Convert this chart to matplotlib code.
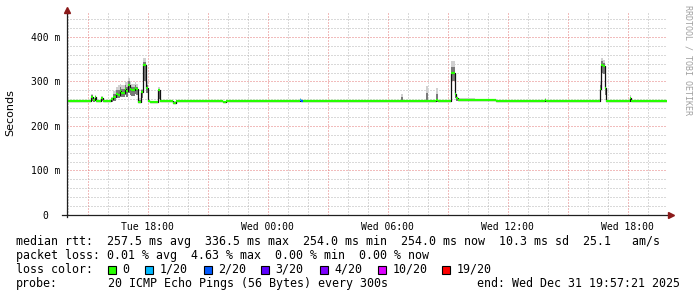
import matplotlib
matplotlib.use("Agg")
import matplotlib.pyplot as plt
import matplotlib.dates as mdates
import matplotlib.ticker as mticker
from matplotlib.patches import Rectangle
import pandas as pd
import numpy as np

# median rtt (ms) as steps
step_times = ["2025-12-30 13:55", "2025-12-30 15:10", "2025-12-30 15:15", "2025-12-30 15:20",
              "2025-12-30 15:25", "2025-12-30 15:40", "2025-12-30 15:45", "2025-12-30 16:10",
              "2025-12-30 16:15", "2025-12-30 16:25", "2025-12-30 16:30", "2025-12-30 16:35",
              "2025-12-30 16:40", "2025-12-30 16:50", "2025-12-30 16:55", "2025-12-30 17:00",
              "2025-12-30 17:05", "2025-12-30 17:10", "2025-12-30 17:20", "2025-12-30 17:25",
              "2025-12-30 17:30", "2025-12-30 17:40", "2025-12-30 17:45", "2025-12-30 17:55",
              "2025-12-30 18:00", "2025-12-30 18:05", "2025-12-30 18:30", "2025-12-30 18:35",
              "2025-12-30 19:15", "2025-12-30 19:25", "2025-12-30 21:45", "2025-12-30 21:55",
              "2025-12-31 01:35", "2025-12-31 01:40", "2025-12-31 01:45", "2025-12-31 06:40",
              "2025-12-31 06:45", "2025-12-31 07:55", "2025-12-31 08:00", "2025-12-31 08:25",
              "2025-12-31 08:30", "2025-12-31 09:10", "2025-12-31 09:20", "2025-12-31 09:25",
              "2025-12-31 09:30", "2025-12-31 10:20", "2025-12-31 11:25", "2025-12-31 13:50",
              "2025-12-31 13:55", "2025-12-31 16:35", "2025-12-31 16:40", "2025-12-31 16:45",
              "2025-12-31 16:50", "2025-12-31 16:55", "2025-12-31 18:05", "2025-12-31 18:10",
              "2025-12-31 19:57"]
median_ms = [255, 266, 258, 264, 255, 262, 255, 260, 266, 272, 270, 278, 274, 283, 278, 292,
             284, 280, 286, 282, 254, 276, 336, 286, 255, 253, 280, 255, 252, 255, 253, 255,
             258, 257, 255, 257, 255, 257, 255, 258, 255, 318, 272, 262, 259, 257.5, 255, 259,
             255, 282, 338, 334, 285, 255, 262, 255, 255]
smoke_hi_ms = [258, 272, 262, 270, 258, 268, 258, 266, 278, 288, 292, 295, 292, 300, 298, 308,
               300, 295, 298, 294, 262, 284, 352, 300, 260, 257, 288, 258, 256, 258, 256, 258,
               262, 261, 258, 272, 258, 290, 258, 285, 258, 345, 292, 266, 262, 260, 258, 262,
               258, 300, 352, 348, 300, 258, 270, 258, 258]
smoke_lo_ms = [253, 255, 253, 255, 253, 255, 253, 254, 256, 262, 262, 266, 264, 270, 266, 275,
               270, 268, 272, 270, 252, 262, 300, 275, 253, 252, 260, 253, 251, 253, 251, 253,
               254, 254, 253, 254, 253, 254, 253, 254, 253, 300, 262, 257, 256, 255, 253, 256,
               253, 270, 320, 316, 270, 253, 255, 253, 253]
loss_count = [0] * len(median_ms)
loss_count[32] = 1
loss_count[33] = 2

stat_lines = ["median rtt:  257.5 ms avg  336.5 ms max  254.0 ms min  254.0 ms now  10.3 ms sd  25.1   am/s",
              "packet loss: 0.01 % avg  4.63 % max  0.00 % min  0.00 % now"]
loss_labels = ["0", "1/20", "2/20", "3/20", "4/20", "10/20", "19/20"]
loss_colors = ["#26ff00", "#00b8ff", "#0059ff", "#5e00ff", "#7e00ff", "#dd00ff", "#ff0000"]
loss_levels = [0, 1, 2, 3, 4, 10, 19]

W, H = 697, 297
t = pd.to_datetime(step_times)
med = np.array(median_ms) / 1000.0
hi = np.array(smoke_hi_ms) / 1000.0
lo = np.array(smoke_lo_ms) / 1000.0
start = pd.Timestamp("2025-12-30 13:57:21")
end = pd.Timestamp("2025-12-31 19:57:21")

fig = plt.figure(figsize=(W / 100, H / 100), dpi=100)
ax = fig.add_axes([67 / W, (H - 215) / H, 600 / W, 203 / H])

# grid
ax.set_xlim(start, end)
ax.set_ylim(0, 0.456)
ax.xaxis.set_major_locator(mdates.HourLocator(byhour=range(0, 24, 3)))
ax.xaxis.set_minor_locator(mdates.HourLocator())
ax.yaxis.set_major_locator(mticker.MultipleLocator(0.1))
ax.yaxis.set_minor_locator(mticker.MultipleLocator(0.02))
ax.grid(which="minor", color="#b4b4b4", linestyle=(0, (1, 2)), linewidth=0.72)
ax.grid(which="major", color="#e47a7a", linestyle=(0, (1, 2)), linewidth=0.72)
ax.set_axisbelow(True)

def xfmt(v, pos):
    d = mdates.num2date(v)
    if d.hour % 6 == 0:
        return d.strftime("%a %H:%M")
    return ""

def yfmt(v, pos):
    if abs(v) < 1e-9:
        return "0"
    return "%d m" % round(v * 1000)

ax.xaxis.set_major_formatter(mticker.FuncFormatter(xfmt))
ax.yaxis.set_major_formatter(mticker.FuncFormatter(yfmt))
ax.tick_params(which="both", length=0)
ax.tick_params(axis="x", pad=5, labelsize=7)
ax.tick_params(axis="y", pad=15.5, labelsize=7)
for lab in ax.get_xticklabels() + ax.get_yticklabels():
    lab.set_fontfamily("DejaVu Sans Mono")
for lab in ax.get_yticklabels():
    lab.set_horizontalalignment("center")

# smoke
mid = (med + hi) / 2
ax.fill_between(t, lo, hi, step="post", color="#d0d0d0", linewidth=0)
ax.fill_between(t, np.minimum(lo, med), mid, step="post", color="#7a7a7a", linewidth=0)

# median line, vertical edges dark, horizontal parts by loss colour
ax.step(t, med, where="post", color="#101010", linewidth=0.9)
for i in range(len(t) - 1):
    c = loss_colors[max(j for j, lv in enumerate(loss_levels) if lv <= loss_count[i])]
    ax.hlines(med[i], t[i], t[i + 1], color=c, linewidth=1.6)

for s in ["top", "right", "left", "bottom"]:
    ax.spines[s].set_visible(False)
ax.plot([-5 / 600, 604 / 600], [0, 0], transform=ax.transAxes, color="#202020",
        linewidth=0.9, clip_on=False)
ax.plot([0, 0], [-2 / 203, 205 / 203], transform=ax.transAxes, color="#202020",
        linewidth=0.9, clip_on=False)
ax.plot([604 / 600], [0], transform=ax.transAxes, marker=">", color="#8b1a1a",
        markersize=4, clip_on=False)
ax.plot([0], [205 / 203], transform=ax.transAxes, marker="^", color="#8b1a1a",
        markersize=4, clip_on=False)

def px(x, y):
    return x / W, 1 - y / H

fig.text(*px(10, 113), "Seconds", rotation=90, ha="center", va="center",
         fontsize=8, family="DejaVu Sans")
fig.text(*px(688, 60), "RRDTOOL / TOBI OETIKER", rotation=270, ha="center", va="center",
         fontsize=6, family="DejaVu Sans Mono", color="#a0a0a0")

mono = dict(fontsize=8.4, family="DejaVu Sans Mono", va="center", ha="left")
fig.text(*px(16, 241.5), stat_lines[0], **mono)
fig.text(*px(16, 255.5), stat_lines[1], **mono)
fig.text(*px(16, 269.5), "loss color:", **mono)
box_x = [108, 145, 203.5, 261, 319.5, 378, 442]
for bx, lab, col in zip(box_x, loss_labels, loss_colors):
    fig.patches.append(Rectangle(px(bx, 273.5), 8 / W, 8 / H, transform=fig.transFigure,
                                 facecolor=col, edgecolor="black", linewidth=0.8))
    fig.text(*px(bx + 14.5, 269.5), lab, **mono)
fig.text(*px(16, 283.5), "probe:", **mono)
fig.text(*px(108, 283.5), "20 ICMP Echo Pings (56 Bytes) every 300s", **mono)
fig.text(*px(680, 283.5), "end: Wed Dec 31 19:57:21 2025", fontsize=8.4,
         family="DejaVu Sans Mono", va="center", ha="right")

fig.savefig("out.png", dpi=100, facecolor="white")
